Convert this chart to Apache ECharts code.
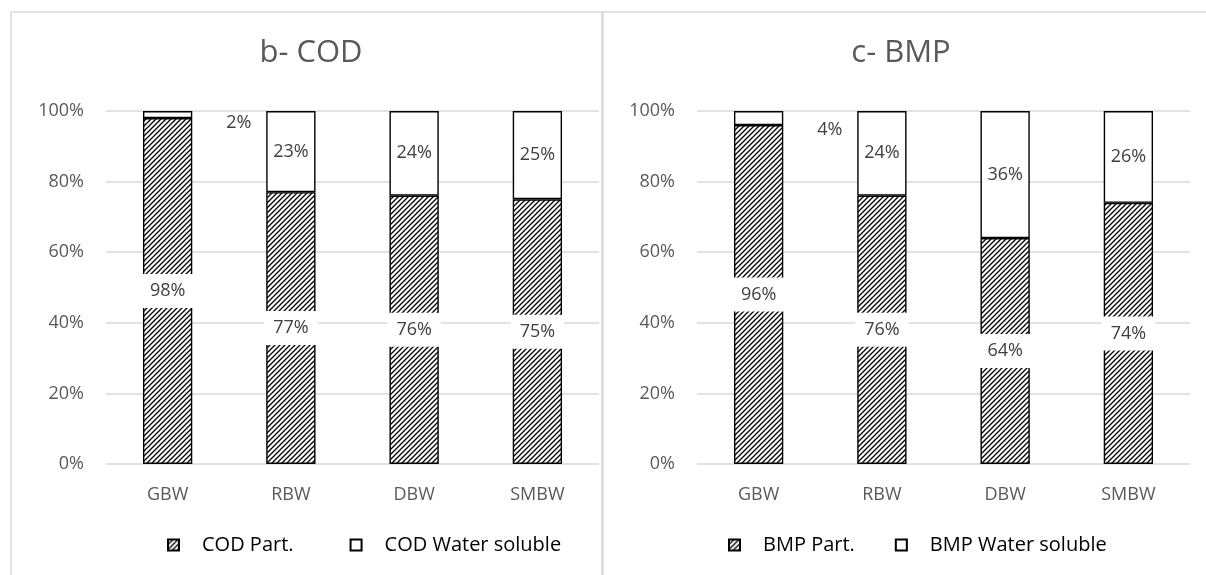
<!DOCTYPE html>
<html>
<head>
<meta charset="utf-8">
<script src="https://cdn.jsdelivr.net/npm/echarts@6/dist/echarts.min.js"></script>
<style>
html,body{margin:0;padding:0;background:#fff;}
#c{width:1206px;height:575px;}
</style>
</head>
<body>
<div id="c"></div>
<script>
const categories = ['GBW', 'RBW', 'DBW', 'SMBW'];
const yTicks = ['0%', '20%', '40%', '60%', '80%', '100%'];
const codPart = [98, 77, 76, 75];
const codWater = [2, 23, 24, 25];
const bmpPart = [96, 76, 64, 74];
const bmpWater = [4, 24, 36, 26];
const titles = ['b- COD', 'c- BMP'];
const seriesNames = [['COD Part.', 'COD Water soluble'], ['BMP Part.', 'BMP Water soluble']];

// hatch pattern
const tile = document.createElement('canvas');
tile.width = 5; tile.height = 5;
const g = tile.getContext('2d');
g.fillStyle = '#fff'; g.fillRect(0, 0, 5, 5);
g.strokeStyle = '#000'; g.lineWidth = 1.3;
g.beginPath();
g.moveTo(0, 5); g.lineTo(5, 0);
g.moveTo(-1, 1); g.lineTo(1, -1);
g.moveTo(4, 6); g.lineTo(6, 4);
g.stroke();
const hatch = { image: tile, repeat: 'repeat' };

const font = '"Open Sans", "Liberation Sans", sans-serif';
const grids = [
  { left: 106, width: 493, top: 111, bottom: 111 },
  { left: 697, width: 493, top: 111, bottom: 111 }
];
const titleCenters = [306, 896];
const legendLefts = [162, 723];
const legendGaps = [56, 40];

const chart = echarts.init(document.getElementById('c'), null, { renderer: 'canvas' });

function waterData(arr) {
  return arr.map(v => v < 10
    ? { value: v, label: { position: 'right', distance: 34, offset: [0, v < 3 ? 8 : 12] } }
    : v);
}

const option = {
  animation: false,
  backgroundColor: '#fff',
  graphic: [
    { type: 'rect', shape: { x: 11, y: 12, width: 591, height: 600 }, style: { fill: 'none', stroke: '#d9d9d9', lineWidth: 1.5 }, silent: true },
    { type: 'rect', shape: { x: 603, y: 12, width: 610, height: 600 }, style: { fill: 'none', stroke: '#d9d9d9', lineWidth: 1.5 }, silent: true }
  ],
  title: titles.map((t, i) => ({
    text: t, left: titleCenters[i], top: 33, textAlign: 'center',
    textStyle: { fontFamily: font, fontSize: 31, fontWeight: 'normal', color: '#595959' }
  })),
  legend: seriesNames.map((names, i) => ({
    data: names, left: legendLefts[i], top: 530, orient: 'horizontal',
    icon: 'rect', itemWidth: 11, itemHeight: 11, itemGap: legendGaps[i],
    textStyle: { fontFamily: font, fontSize: 20, color: '#000', padding: [0, 0, 0, 18] },
    selectedMode: false
  })),
  grid: grids,
  xAxis: grids.map((_, i) => ({
    type: 'category', gridIndex: i, data: categories,
    axisLine: { show: false }, axisTick: { show: false },
    axisLabel: { fontFamily: font, fontSize: 18, color: '#595959', margin: 22 }
  })),
  yAxis: grids.map((_, i) => ({
    type: 'value', gridIndex: i, min: 0, max: 100, interval: 20,
    axisLine: { show: false }, axisTick: { show: false },
    axisLabel: { fontFamily: font, fontSize: 18, color: '#595959', margin: 22,
      formatter: v => yTicks[Math.round(v / 20)] },
    splitLine: { lineStyle: { color: '#d9d9d9', width: 1.5 } }
  })),
  series: []
};

const parts = [codPart, bmpPart];
const waters = [codWater, bmpWater];
for (let i = 0; i < 2; i++) {
  option.series.push({
    name: seriesNames[i][0], type: 'bar', stack: 's' + i, xAxisIndex: i, yAxisIndex: i,
    data: parts[i], barWidth: '40%',
    itemStyle: { color: hatch, borderColor: '#000', borderWidth: 1.4 },
    label: { show: true, position: 'inside', formatter: '{c}%', fontFamily: font, fontSize: 18,
      color: '#404040', backgroundColor: '#fff', padding: [8, 9] }
  });
  option.series.push({
    name: seriesNames[i][1], type: 'bar', stack: 's' + i, xAxisIndex: i, yAxisIndex: i,
    data: waterData(waters[i]), barWidth: '40%',
    itemStyle: { color: '#fff', borderColor: '#000', borderWidth: 1.4 },
    label: { show: true, position: 'inside', formatter: '{c}%', fontFamily: font, fontSize: 18,
      color: '#404040' }
  });
}
chart.setOption(option);
</script>
</body>
</html>
